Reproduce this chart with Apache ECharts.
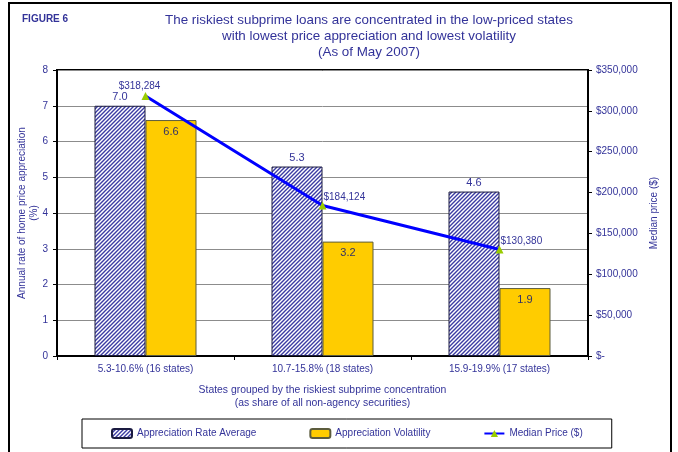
<!DOCTYPE html>
<html>
<head>
<meta charset="utf-8">
<script src="https://cdn.jsdelivr.net/npm/echarts@6/dist/echarts.min.js"></script>
<style>
  html, body { margin: 0; padding: 0; background: #fff; }
  #chart { width: 678px; height: 452px; }
</style>
</head>
<body>
<div id="chart"></div>
<script>
// dados
const categorias = ['5.3-10.6% (16 states)', '10.7-15.8% (18 states)', '15.9-19.9% (17 states)'];
const taxaMedia = [7.0, 5.3, 4.6];
const volatilidade = [6.6, 3.2, 1.9];
const precoMediano = [318284, 184124, 130380];
const ticksEsquerda = [0, 1, 2, 3, 4, 5, 6, 7, 8];
const ticksDireita = [0, 50000, 100000, 150000, 200000, 250000, 300000, 350000];

const azul = '#333399';
const fonte = '"Liberation Sans", Arial, sans-serif';

// padrão hachurado diagonal
function criarHachura() {
  const c = document.createElement('canvas');
  c.width = 4;
  c.height = 4;
  const ctx = c.getContext('2d');
  ctx.fillStyle = '#fff';
  ctx.fillRect(0, 0, 4, 4);
  ctx.strokeStyle = '#3b3ba3';
  ctx.lineWidth = 1.4;
  ctx.beginPath();
  ctx.moveTo(-1, 5); ctx.lineTo(5, -1);
  ctx.moveTo(-1, 1); ctx.lineTo(1, -1);
  ctx.moveTo(3, 5); ctx.lineTo(5, 3);
  ctx.stroke();
  return c;
}
const hachura = { image: criarHachura(), repeat: 'repeat' };

const myChart = echarts.init(document.getElementById('chart'));

const option = {
  backgroundColor: '#fff',
  textStyle: { fontFamily: fonte },
  animation: false,
  title: [
    {
      text: 'The riskiest subprime loans are concentrated in the low-priced states\nwith lowest price appreciation and lowest volatility\n(As of May 2007)',
      left: 364,
      textAlign: 'center',
      top: 7,
      textStyle: { color: azul, fontSize: 13.4, fontWeight: 'normal', lineHeight: 16, fontFamily: fonte },
    },
    {
      text: 'FIGURE 6',
      left: 17,
      top: 9,
      textStyle: { color: azul, fontSize: 10, fontWeight: 'bold', fontFamily: fonte },
    },
  ],
  graphic: [
    {
      type: 'rect',
      shape: { x: 9, y: 3, width: 662, height: 470 },
      style: { fill: 'none', stroke: '#000', lineWidth: 2 },
      silent: true,
    },
  ],
  grid: {
    left: 57,
    right: 90,
    top: 70,
    bottom: 96,
    show: true,
    borderColor: '#000',
    borderWidth: 2,
    backgroundColor: '#fff',
  },
  legend: {
    left: 82,
    top: 419,
    width: 530,
    padding: [9, 29, 9, 29],
    borderColor: '#000',
    borderWidth: 1,
    itemGap: 53,
    itemWidth: 20,
    itemHeight: 9,
    textStyle: { color: azul, fontSize: 10, fontFamily: fonte },
    data: ['Appreciation Rate Average', 'Appreciation Volatility', 'Median Price ($)'],
  },
  xAxis: {
    type: 'category',
    data: categorias,
    name: 'States grouped by the riskiest subprime concentration\n(as share of all non-agency securities)',
    nameLocation: 'middle',
    nameGap: 28,
    nameMoveOverlap: false,
    nameTextStyle: { color: azul, fontSize: 10.4, lineHeight: 13 },
    axisLine: { lineStyle: { color: '#000', width: 2 } },
    axisTick: { show: true, inside: false, length: 4, lineStyle: { color: '#000' } },
    axisLabel: { color: azul, fontSize: 10, margin: 8 },
  },
  yAxis: [
    {
      type: 'value',
      min: 0,
      max: 8,
      interval: 1,
      name: 'Annual rate of home price appreciation\n(%)',
      nameLocation: 'middle',
      nameGap: 17,
      nameMoveOverlap: false,
      nameTextStyle: { color: azul, fontSize: 10, lineHeight: 12 },
      axisLine: { show: true, lineStyle: { color: '#000', width: 2 } },
      axisTick: { show: true, length: 4, lineStyle: { color: '#000' } },
      axisLabel: { color: azul, fontSize: 10, margin: 9 },
      splitLine: { show: true, lineStyle: { color: '#8c8c8c', width: 1 } },
    },
    {
      type: 'value',
      min: 0,
      max: 350000,
      interval: 50000,
      name: 'Median price ($)',
      nameLocation: 'middle',
      nameGap: 61,
      nameTextStyle: { color: azul, fontSize: 10 },
      axisLine: { show: true, lineStyle: { color: '#000', width: 2 } },
      axisTick: { show: true, length: 4, lineStyle: { color: '#000' } },
      axisLabel: {
        color: azul,
        fontSize: 10,
        margin: 8,
        formatter: (v) => (v === 0 ? '$-' : '$' + v.toLocaleString('en-US')),
      },
      splitLine: { show: false },
    },
  ],
  series: [
    {
      name: 'Appreciation Rate Average',
      type: 'bar',
      data: taxaMedia,
      barWidth: 51,
      barGap: '0%',
      itemStyle: { color: hachura, borderColor: '#1a1a40', borderWidth: 1 },
      label: {
        show: true,
        position: 'top',
        distance: 3,
        color: azul,
        fontSize: 11,
        formatter: (p) => p.value.toFixed(1),
      },
    },
    {
      name: 'Appreciation Volatility',
      type: 'bar',
      data: volatilidade,
      barWidth: 51,
      itemStyle: { color: '#FFCC00', borderColor: '#5c5c3d', borderWidth: 1 },
      label: {
        show: true,
        position: 'insideTop',
        distance: 6,
        color: '#333366',
        fontSize: 11,
        formatter: (p) => p.value.toFixed(1),
      },
    },
    {
      name: 'Median Price ($)',
      type: 'line',
      yAxisIndex: 1,
      data: precoMediano.map((v, i) => ({
        value: v,
        label: i === 0
          ? { position: 'top', offset: [-6, 4] }
          : { position: 'right', offset: [-8, -8] },
      })),
      symbol: 'triangle',
      symbolSize: 8,
      lineStyle: { color: '#0000FF', width: 3 },
      itemStyle: { color: '#99CC00' },
      label: {
        show: true,
        color: azul,
        fontSize: 10,
        formatter: (p) => '$' + p.value.toLocaleString('en-US'),
      },
      z: 5,
    },
  ],
};

myChart.setOption(option);
</script>
</body>
</html>
